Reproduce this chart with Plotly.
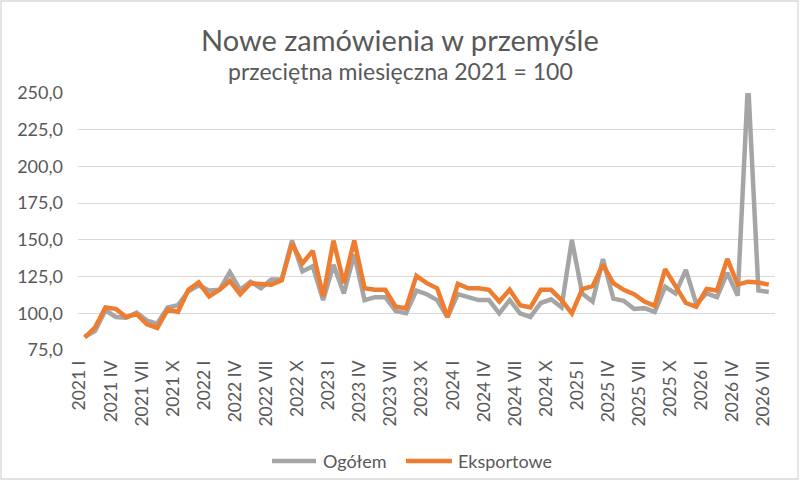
import plotly.graph_objects as go

years = [2021, 2022, 2023, 2024, 2025, 2026]
roman = ["I", "II", "III", "IV", "V", "VI", "VII", "VIII", "IX", "X", "XI", "XII"]
months = [f"{y} {m}" for y in years for m in roman][:67]  # 2021 I .. 2026 VII

ogolem = [84, 88, 102, 97.5, 97, 100.5, 95, 93, 104, 105.5, 115, 119,
          115.5, 116, 128, 116, 121.5, 117, 123, 123, 149.5, 128.5, 132, 109,
          133, 113.5, 140, 109, 111, 111, 101.5, 100, 115.5, 113, 109, 97.5,
          113, 111, 109, 109, 100, 109, 100, 97.5, 107, 109.5, 104, 150,
          113.5, 108, 137, 110, 108.5, 103, 103.5, 101, 118, 113.5, 129.5, 106.5,
          113.5, 111, 127.5, 112, 258, 115.5, 114.5]

eksportowe = [83.5, 90.5, 104, 103, 97.5, 99.5, 92.5, 90, 102.5, 101, 116, 121,
              111.5, 116, 122, 113, 120.5, 120, 119.5, 122.5, 147.5, 134, 142.5, 111.5,
              149.5, 120.5, 149.5, 117, 116, 116, 104.5, 103.5, 125.5, 120.5, 117, 97.5,
              120, 117, 117, 116, 108, 116, 105.5, 104, 116, 116, 109, 100,
              116.5, 118.5, 133, 120.5, 116, 113, 108, 105, 130, 118.5, 107, 104.5,
              116.5, 115.5, 137, 119.5, 121.5, 121, 119.5]

idx = list(range(len(months)))
tick_idx = idx[::3]
tick_txt = months[::3]

GREY = "#A5A5A5"
ORANGE = "#ED7D31"
TXT = "#595959"
FONT = "Lato"

fig = go.Figure()
fig.add_trace(go.Scatter(x=idx, y=ogolem, mode="lines", name="Ogółem",
                         line=dict(color=GREY, width=4.5), showlegend=False))
fig.add_trace(go.Scatter(x=idx, y=eksportowe, mode="lines", name="Eksportowe",
                         line=dict(color=ORANGE, width=4.5), showlegend=False))

L, R, T, B = 78, 25, 93, 131
W, H = 800, 481
pw, ph = W - L - R, H - T - B


# pixel -> paper helpers
def px(x):
    return (x - L) / pw


def py(y):
    return (ph - (y - T)) / ph


# legend drawn by hand (Excel-style long line keys)
legend = [("Ogółem", GREY, 272, 316, 321), ("Eksportowe", ORANGE, 406, 452, 456)]
shapes = [dict(type="rect", xref="paper", yref="paper",
               x0=px(1), x1=px(W - 2), y0=py(H - 2), y1=py(1),
               line=dict(color="#D9D9D9", width=1.3))]
annotations = [
    dict(text="Nowe zamówienia w przemyśle", xref="paper", yref="paper",
         x=px(400), y=py(39), xanchor="center", yanchor="middle",
         showarrow=False, font=dict(size=29, color=TXT)),
    dict(text="przeciętna miesięczna 2021 = 100", xref="paper", yref="paper",
         x=px(400), y=py(71), xanchor="center", yanchor="middle",
         showarrow=False, font=dict(size=23, color=TXT)),
]
for name, col, x0, x1, xt in legend:
    shapes.append(dict(type="line", xref="paper", yref="paper", x0=px(x0), x1=px(x1),
                       y0=py(461), y1=py(461), line=dict(color=col, width=4.5)))
    annotations.append(dict(text=name, xref="paper", yref="paper", x=px(xt), y=py(461),
                            xanchor="left", yanchor="middle", showarrow=False,
                            font=dict(size=18, color=TXT)))

fig.update_layout(
    width=W, height=H,
    margin=dict(l=L, r=R, t=T, b=B),
    paper_bgcolor="white", plot_bgcolor="white",
    font=dict(family=FONT, color=TXT),
    separators=", ",
    annotations=annotations,
    shapes=shapes,
)

fig.update_xaxes(range=[-0.65, 66.6], tickmode="array", tickvals=tick_idx, ticktext=tick_txt,
                 tickangle=-90, tickfont=dict(size=17.5, color=TXT), showgrid=False,
                 showline=False, zeroline=False, ticks="", ticklabelstandoff=6,
                 ticklabelshift=-5)
fig.update_yaxes(range=[75, 250], tick0=75, dtick=25, tickformat=".1f",
                 tickfont=dict(size=18, color=TXT), gridcolor="#D9D9D9", gridwidth=1.3,
                 zeroline=False, showline=False, ticks="", ticklabelstandoff=14)

fig.write_html("out.html", config={"displayModeBar": False},
               post_script="document.body.style.margin='0';")
